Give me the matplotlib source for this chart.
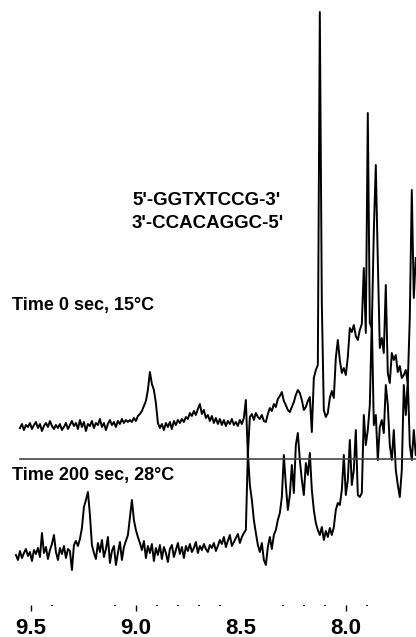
import numpy as np
import matplotlib.pyplot as plt

plt.rcParams['font.family'] = ['Liberation Sans', 'DejaVu Sans']

# chemical shift grid (ppm), both spectra sampled on the same step
SHIFT_STEP = 0.00952
TOP_START = 9.551
BOTTOM_START = 9.570

# imino region, Time 0 sec, 15°C (intensity, a.u.)
top_intensity = [
    0, 4, -2, 3, 1, 5, -1, 3, 6, 0, 4, -3, 2, 5, 1, 7, 2, -1, 3, 0,
    4, -2, 1, 5, -1, 3, 7, 2, 5, -1, 8, 1, 6, -3, 4, 2, 7, 0, 5, 3,
    9, 1, 5, -2, 4, 8, 3, 6, 1, 7, 4, 9, 5, 8, 6, 8, 6, 10, 7, 12,
    14, 17, 22, 27, 38, 56, 44, 38, 25, 5, 0, 4, -2, 5, 1, 6, -1, 7, 3, 8,
    5, 9, 6, 11, 9, 15, 12, 17, 13, 19, 24, 14, 18, 10, 13, 7, 12, 5, 10, 4,
    9, 3, 8, 2, 7, 4, 9, 3, 6, 2, 8, 4, 10, 28, -27, 11, 14, 8, 15, 11,
    9, 13, 7, 6, 14, 20, 17, 24, 21, 29, 32, 36, 27, 23, 18, 16, 21, 26, 33, 38,
    35, 28, 18, 21, 27, 31, -4, 50, 58, 63, 416, 125, 18, 11, 15, 30, 37, 30, 70, 88,
    68, 55, 60, 53, 71, 100, 96, 103, 92, 88, 98, 104, 160, 95, 315, 105, 100, 196, 263, 168,
    80, 90, 75, 143, 55, 45, 75, 68, 73, 56, 62, 50, 53, 58, 45, 110, 238, 130, 170,
]

# Time 200 sec, 28°C (intensity, a.u.)
bottom_intensity = [
    0, -5, 4, -3, 2, 6, -1, 3, -6, 5, 1, 7, -2, 22, 2, 8, -4, 5, 11, 20,
    3, -5, 7, 1, 9, -3, 6, 4, -15, 10, 14, 9, 16, 27, 48, 55, 63, 40, 10, 2,
    -4, 12, 3, 15, -2, 6, 18, -8, 4, 9, -10, 2, 13, -5, 8, 14, 20, 38, 55, 35,
    25, 18, 12, 5, 14, -3, 9, 2, 11, -6, 7, 0, 10, -4, 8, 2, -7, 6, 10, -2,
    5, 12, 1, 8, -3, 9, 4, 11, 3, 7, 13, 2, 9, 5, 11, 6, 3, 10, 7, 12,
    4, 9, 15, 11, 18, 8, 14, 20, 9, 13, 17, 21, 12, 18, 22, 25, 103, 70, 55, 35,
    22, 10, 3, 12, -5, -10, 8, 18, 6, 20, 25, 35, 42, 58, 100, 70, 45, 60, 90, 62,
    110, 122, 95, 75, 60, 92, 80, 102, 65, 45, 32, 25, 20, 28, 15, 24, 18, 27, 20, 28,
    45, 52, 50, 65, 100, 60, 75, 115, 70, 85, 125, 60, 58, 62, 140, 110, 125, 150, 235, 130,
    140, 95, 128, 135, 122, 170, 150, 110, 95, 125, 85, 70, 58, 85, 170, 140, 175, 110, 95, 125,
    100,
]

tick_labels = ["9.5", "9.0", "8.5", "8.0"]
tick_values = [9.5, 9.0, 8.5, 8.0]
minor_values = [9.4, 9.1, 8.9, 8.8, 8.7, 8.6, 8.3, 8.2, 8.1, 7.9]

top_shift = TOP_START - SHIFT_STEP * np.arange(len(top_intensity))
bottom_shift = BOTTOM_START - SHIFT_STEP * np.arange(len(bottom_intensity))

fig = plt.figure(figsize=(4.16, 6.37), dpi=100)
ax = fig.add_axes([0, 32 / 637, 1, 605 / 637])

top_offset = 177
bottom_offset = 50
ax.plot(top_shift, np.array(top_intensity) + top_offset, color='black', lw=1.4)
ax.plot(bottom_shift, np.array(bottom_intensity) + bottom_offset, color='black', lw=1.4)
ax.plot([9.551, 7.665], [146, 146], color='#444444', lw=1.2)

ax.set_xlim(9.646, 7.665)
ax.set_ylim(0, 605)

for s in ax.spines.values():
    s.set_visible(False)
ax.yaxis.set_visible(False)
ax.set_xticks(tick_values)
ax.set_xticklabels(tick_labels, fontsize=16, fontweight='bold')
ax.set_xticks(minor_values, minor=True)
ax.tick_params(axis='x', which='major', length=4, width=1, direction='out', pad=5)
ax.tick_params(axis='x', which='minor', length=1, width=1.3, direction='out')
ax.xaxis.get_major_ticks()[2].tick1line.set_visible(False)

fig.text(132 / 416, 1 - 205 / 637, "5'-GGTXTCCG-3'", fontsize=13.5, fontweight='bold')
fig.text(132 / 416, 1 - 228 / 637, "3'-CCACAGGC-5'", fontsize=13.5, fontweight='bold')
fig.text(12 / 416, 1 - 310 / 637, "Time 0 sec, 15°C", fontsize=13, fontweight='bold')
fig.text(12 / 416, 1 - 480 / 637, "Time 200 sec, 28°C", fontsize=13, fontweight='bold')

fig.savefig('out.png', dpi=100)
